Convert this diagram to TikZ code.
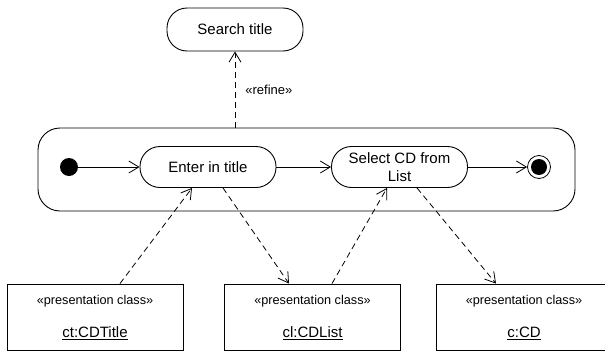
\documentclass[tikz,border=0pt]{standalone}
\usepackage{fontspec}
\setmainfont{Liberation Sans}
\usetikzlibrary{arrows.meta}
\begin{document}
\begin{tikzpicture}[x=1pt, y=-1pt,
  every node/.style={inner sep=0pt},
  statebox/.style={draw, line width=0.9pt, rounded corners=20pt,
    minimum width=136pt, minimum height=41pt, align=center,
    font=\fontsize{15}{18}\selectfont},
  classbox/.style={draw, line width=0.9pt, minimum width=176pt, minimum height=66pt},
  stereo/.style={font=\fontsize{12.7}{15}\selectfont},
  objname/.style={font=\fontsize{15}{18}\selectfont},
  flow/.style={-{Straight Barb[length=10pt,width=12pt]}, line width=0.8pt},
  dep/.style={flow, dash pattern=on 6pt off 4pt}]
\useasboundingbox (0,0) rectangle (605,351);
\clip (0,0) rectangle (605,351);

% top-level activity
\node[statebox, minimum height=43pt] (search) at (235,29.5) {Search title};

% refined activity container
\node[draw, line width=0.9pt, rounded corners=22pt, minimum width=537pt,
      minimum height=83pt] (big) at (306.5,169.5) {};

\node[circle, fill, minimum size=18pt] (init) at (69,167) {};
\node[statebox] (enter) at (208,167) {Enter in title};
\node[statebox] (select) at (399.5,167) {Select CD from\\List};
\node[circle, draw, line width=0.8pt, minimum size=23pt] (final) at (539,167) {};
\node[circle, fill, minimum size=16pt] (finalcore) at (final) {};

\draw[flow] (init) -- (enter);
\draw[flow] (enter) -- (select);
\draw[flow] (select) -- (final);

\draw[dep] (search.south |- big.north) -- node[right=10pt, font=\fontsize{13}{15}\selectfont] (reflabel) {«refine»} (search.south);

% presentation classes
\node[classbox] (ct) at (95,317) {};
\node[classbox] (cl) at (312.5,317) {};
\node[classbox] (cd) at (524,317) {};
\foreach \b/\n in {ct/ct:CDTitle, cl/cl:CDList, cd/c:CD} {
  \node[stereo] (\b-st) at ([yshift=16pt]\b.center) {«presentation class»};
  \node[objname] (\b-nm) at ([yshift=-16pt]\b.center) {\underline{\n}};
}

\draw[dep] ([xshift=25pt]ct.north) -- ([xshift=-16pt]enter.south);
\draw[dep] ([xshift=15pt]enter.south) -- ([xshift=-23.5pt]cl.north);
\draw[dep] ([xshift=19.5pt]cl.north) -- ([xshift=-12.5pt]select.south);
\draw[dep] ([xshift=17.5pt]select.south) -- ([xshift=-28pt]cd.north);
\end{tikzpicture}
\end{document}
